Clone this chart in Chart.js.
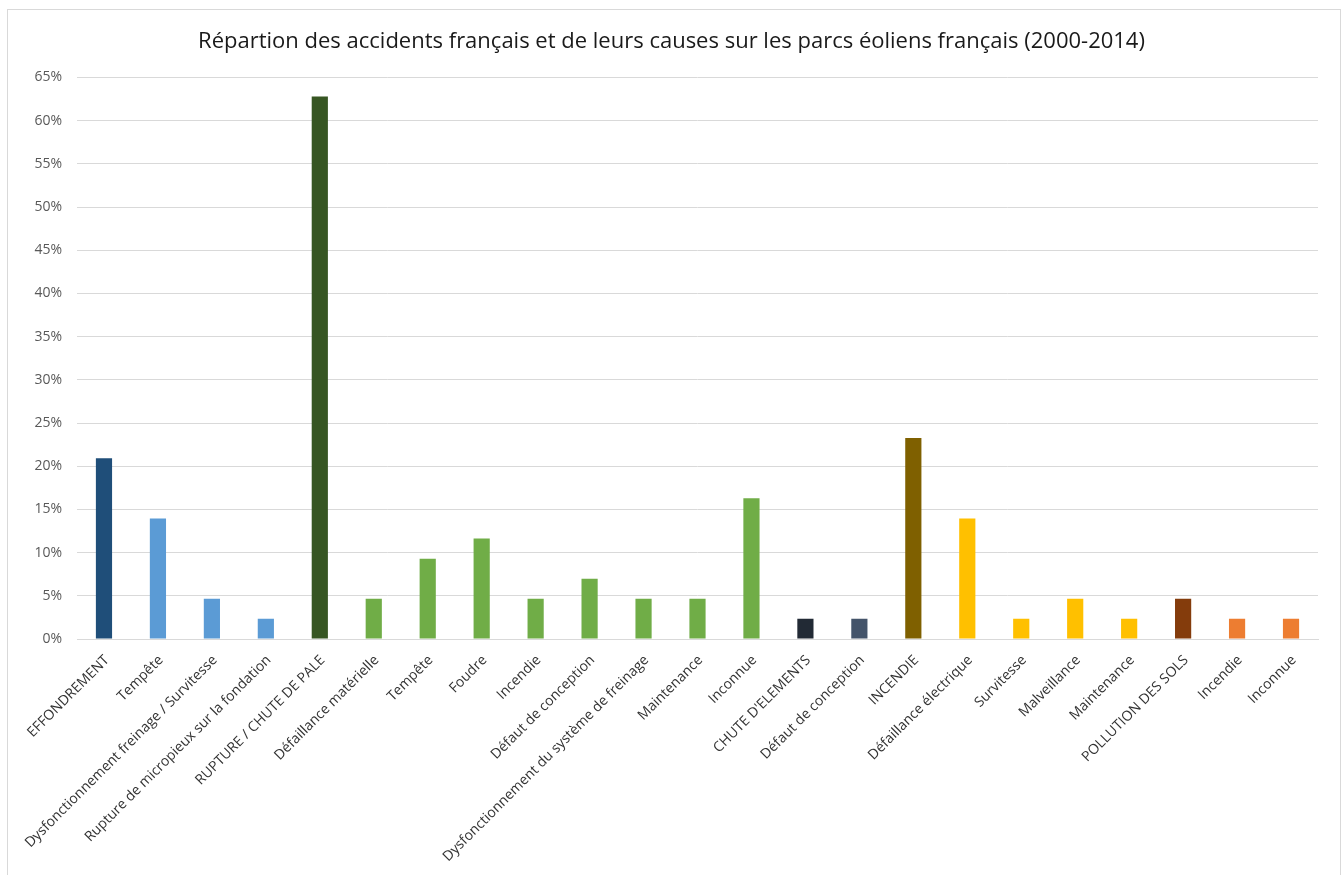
<html lang="fr">
<head>
  <meta charset="UTF-8">
  <title>Accidents éoliens</title>
  <style>
    body { margin: 0; background: #fff; }
    #chart { position: absolute; left: 0; top: 0; }
    #frame { position: absolute; left: 7px; top: 9px; width: 1332px; height: 880px;
             border: 1px solid #d9d9d9; pointer-events: none; }
  </style>
</head>
<body>
  <canvas id="chart" width="1343" height="875"></canvas>
  <div id="frame"></div>
  <script src="https://cdn.jsdelivr.net/npm/chart.js@4/dist/chart.umd.min.js"></script>
  <script>
    const causes = [
      'EFFONDREMENT', 'Tempête', 'Dysfonctionnement freinage / Survitesse',
      'Rupture de micropieux sur la fondation', 'RUPTURE / CHUTE DE PALE',
      'Défaillance matérielle', 'Tempête', 'Foudre', 'Incendie',
      'Défaut de conception', 'Dysfonctionnement du système de freinage',
      'Maintenance', 'Inconnue', "CHUTE D'ELEMENTS", 'Défaut de conception',
      'INCENDIE', 'Défaillance électrique', 'Survitesse', 'Malveillance',
      'Maintenance', 'POLLUTION DES SOLS', 'Incendie', 'Inconnue'
    ];
    // share of accidents, in percent
    const shares = [
      20.93, 13.95, 4.65, 2.33, 62.79,
      4.65, 9.30, 11.63, 4.65,
      6.98, 4.65,
      4.65, 16.28, 2.33, 2.33,
      23.26, 13.95, 2.33, 4.65,
      2.33, 4.65, 2.33, 2.33
    ];
    const yTicks = [0, 5, 10, 15, 20, 25, 30, 35, 40, 45, 50, 55, 60, 65];

    // one colour per bar: headings dark, their causes lighter
    const barColors = [
      '#1f4e79', '#5b9bd5', '#5b9bd5', '#5b9bd5', '#375623',
      '#70ad47', '#70ad47', '#70ad47', '#70ad47', '#70ad47', '#70ad47',
      '#70ad47', '#70ad47', '#222a35', '#44546a',
      '#7f6000', '#ffc000', '#ffc000', '#ffc000', '#ffc000',
      '#843c0c', '#ed7d31', '#ed7d31'
    ];

    const font = '"Open Sans", "DejaVu Sans", sans-serif';

    new Chart(document.getElementById('chart'), {
      type: 'bar',
      data: {
        labels: causes,
        datasets: [{
          data: shares,
          backgroundColor: barColors,
          barPercentage: 0.3,
          categoryPercentage: 1
        }]
      },
      options: {
        responsive: false,
        animation: false,
        // symmetric side padding keeps the title centred on the canvas
        layout: { padding: { left: 25, right: 25, top: 0, bottom: 0 } },
        plugins: {
          legend: { display: false },
          tooltip: { enabled: false },
          title: {
            display: true,
            text: 'Répartion des accidents français et de leurs causes sur les parcs éoliens français (2000-2014)',
            color: '#1a1a1a',
            font: { family: font, size: 22, weight: 'normal' },
            padding: { top: 29, bottom: 22 }
          }
        },
        scales: {
          x: {
            grid: { display: false, drawTicks: false },
            border: { color: '#d9d9d9' },
            ticks: {
              autoSkip: false,
              minRotation: 45,
              maxRotation: 45,
              padding: 13,
              labelOffset: 3,
              color: '#333333',
              font: { family: font, size: 14 }
            },
            afterFit: (scale) => { scale.height = 236; }
          },
          y: {
            min: 0,
            max: 65,
            afterBuildTicks: (scale) => { scale.ticks = yTicks.map(v => ({ value: v })); },
            grid: { color: '#d9d9d9', drawTicks: false },
            border: { display: false },
            ticks: {
              padding: 15,
              color: '#595959',
              font: { family: font, size: 14 },
              callback: (v) => v + '%'
            },
            afterFit: (scale) => { scale.width = 52; }
          }
        }
      }
    });
  </script>
</body>
</html>
